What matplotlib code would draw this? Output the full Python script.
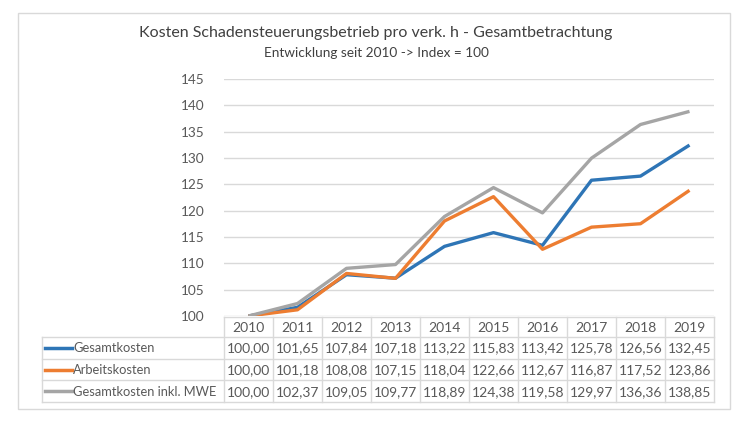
import matplotlib
matplotlib.use("Agg")
import matplotlib.pyplot as plt
from matplotlib.patches import Rectangle
from matplotlib.lines import Line2D

plt.rcParams['font.family'] = ['Lato', 'DejaVu Sans']

years = ["2010", "2011", "2012", "2013", "2014", "2015", "2016", "2017", "2018", "2019"]
series_names = ["Gesamtkosten", "Arbeitskosten", "Gesamtkosten inkl. MWE"]
gesamtkosten = [100.00, 101.65, 107.84, 107.18, 113.22, 115.83, 113.42, 125.78, 126.56, 132.45]
arbeitskosten = [100.00, 101.18, 108.08, 107.15, 118.04, 122.66, 112.67, 116.87, 117.52, 123.86]
gesamt_mwe = [100.00, 102.37, 109.05, 109.77, 118.89, 124.38, 119.58, 129.97, 136.36, 138.85]
yticks = [100, 105, 110, 115, 120, 125, 130, 135, 140, 145]

title = "Kosten Schadensteuerungsbetrieb pro verk. h - Gesamtbetrachtung"
subtitle = "Entwicklung seit 2010 -> Index = 100"

colors = ["#2E75B6", "#ED7D31", "#A5A5A5"]
series = [gesamtkosten, arbeitskosten, gesamt_mwe]

W, H = 750, 422
fig = plt.figure(figsize=(W / 100, H / 100), dpi=100)

def fx(px):
    return px / W

def fy(py):
    return 1 - py / H

# chart border
fig.patches.append(Rectangle((fx(18), fy(409)), fx(730) - fx(18), fy(13) - fy(409),
                             transform=fig.transFigure, fill=False,
                             edgecolor="#D9D9D9", linewidth=1.0))

fig.text(fx(376), fy(33), title, ha="center", va="center", fontsize=11.5, color="#404040")
fig.text(fx(376), fy(53), subtitle, ha="center", va="center", fontsize=9.8, color="#404040")

# plot area
left_px, right_px = 224, 714
top_px, bot_px = 79, 316
ax = fig.add_axes([fx(left_px), fy(bot_px), fx(right_px) - fx(left_px), fy(top_px) - fy(bot_px)])
x = list(range(len(years)))
for vals, c in zip(series, colors):
    ax.plot(x, vals, color=c, linewidth=2.4, solid_joinstyle="round", solid_capstyle="butt", zorder=3)
ax.set_xlim(-0.5, len(years) - 0.5)
ax.set_ylim(yticks[0], yticks[-1])
ax.set_yticks(yticks)
ax.set_yticklabels([str(t) for t in yticks], fontsize=9.8, color="#595959")
ax.tick_params(axis="y", length=0, pad=14)
ax.set_xticks([])
ax.grid(axis="y", color="#D9D9D9", linewidth=1.0)
ax.set_axisbelow(True)
for s in ax.spines.values():
    s.set_visible(False)
ax.patch.set_alpha(0)

# data table
tab_left = 42
tab_top = 317
hdr_h = 20
row_h = 21.7
tab = fig.add_axes([0, 0, 1, 1])
tab.set_xlim(0, W)
tab.set_ylim(H, 0)
tab.axis("off")
tab.patch.set_alpha(0)
col_w = (right_px - left_px) / len(years)
gc = "#D9D9D9"
nrows = len(series_names)
tab_bot = tab_top + hdr_h + nrows * row_h
fs = 10
fs_lbl = 9.3
# header
for i, yr in enumerate(years):
    cx = left_px + (i + 0.5) * col_w
    tab.text(cx, tab_top + hdr_h / 2 + 0.5, yr, ha="center", va="center", fontsize=fs, color="#595959")
# horizontal lines
tab.add_line(Line2D([left_px, right_px], [tab_top, tab_top], color=gc, lw=1))
for r in range(nrows + 1):
    yy = tab_top + hdr_h + r * row_h
    tab.add_line(Line2D([tab_left, right_px], [yy, yy], color=gc, lw=1))
# vertical lines
tab.add_line(Line2D([tab_left, tab_left], [tab_top + hdr_h, tab_bot], color=gc, lw=1))
for i in range(len(years) + 1):
    xx = left_px + i * col_w
    tab.add_line(Line2D([xx, xx], [tab_top, tab_bot], color=gc, lw=1))
# rows
for r, (name, vals, c) in enumerate(zip(series_names, series, colors)):
    cy = tab_top + hdr_h + (r + 0.5) * row_h
    tab.add_line(Line2D([tab_left + 3, tab_left + 30], [cy, cy], color=c, lw=2.5))
    tab.text(tab_left + 31, cy + 0.5, name, ha="left", va="center", fontsize=fs_lbl, color="#595959")
    for i, v in enumerate(vals):
        cx = left_px + (i + 0.5) * col_w
        tab.text(cx, cy + 0.5, f"{v:.2f}".replace(".", ","), ha="center", va="center",
                 fontsize=fs, color="#595959")

fig.savefig("out.png", dpi=100)
